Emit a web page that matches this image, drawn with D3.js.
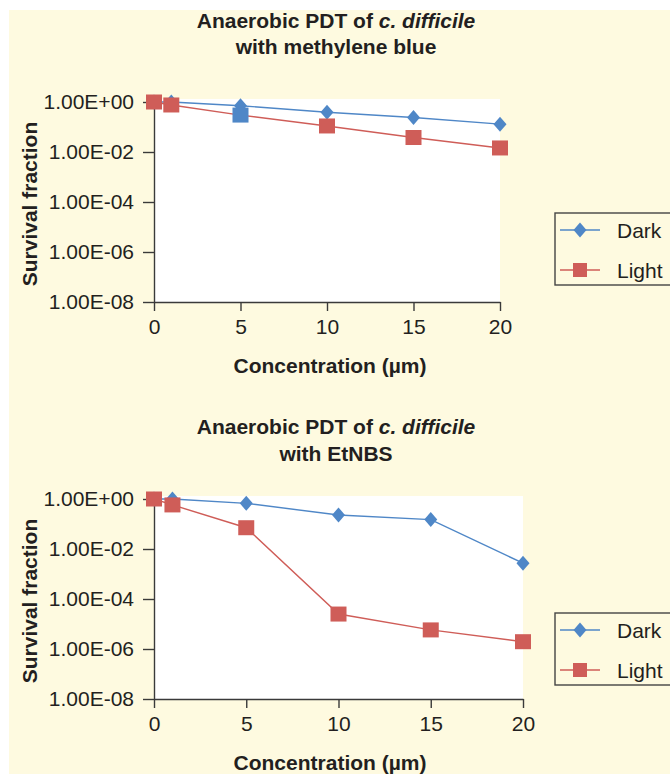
<!DOCTYPE html>
<html>
<head>
<meta charset="utf-8">
<script src="https://cdn.jsdelivr.net/npm/d3@7"></script>
<style>
    body { margin: 0; background: #fff; }
    svg text { font-family: "Liberation Sans", Arial, Helvetica, sans-serif; fill: #231f20; }
</style>
</head>
<body>
<div id="chart"></div>
<script>
// values
const concentrations = [0, 1, 5, 10, 15, 20];
const seriesNames = ["Dark", "Light"];
const mbDark = [1.0, 1.0, 0.71, 0.39, 0.24, 0.13];
const mbLight = [1.0, 0.76, 0.30, 0.11, 0.038, 0.0145];
const etDark = [1.0, 1.0, 0.67, 0.23, 0.15, 0.0027];
const etLight = [1.0, 0.58, 0.071, 2.5e-5, 5.8e-6, 1.96e-6];
const xTickValues = [0, 5, 10, 15, 20];
const yTickValues = [1, 1e-2, 1e-4, 1e-6, 1e-8];

const darkColor = "#4f87c7";
const lightColor = "#cf5d58";
const axisColor = "#3a3a3a";

const width = 670;
const height = 775;

const svg = d3.select("#chart")
    .append("svg")
    .attr("width", width)
    .attr("height", height);

// cream panel behind both charts
svg.append("rect")
    .attr("x", 9)
    .attr("y", 10)
    .attr("width", width - 9)
    .attr("height", 764)
    .attr("fill", "#fefae0");

function sciFormat(v) {
    const e = Math.round(Math.log10(v));
    const sign = e < 0 ? "-" : "+";
    return "1.00E" + sign + String(Math.abs(e)).padStart(2, "0");
}

function drawChart(cfg) {
    const g = svg.append("g");

    const x = d3.scaleLinear().domain([0, 20]).range([cfg.left, cfg.right]);
    const y = d3.scaleLog().domain([1e-8, 1]).range([cfg.bottom, cfg.top]);

    // white plot area
    g.append("rect")
        .attr("x", cfg.left)
        .attr("y", cfg.top - 3)
        .attr("width", cfg.right - cfg.left)
        .attr("height", cfg.bottom - cfg.top + 3)
        .attr("fill", "#ffffff");

    // title
    const title = g.append("text")
        .attr("x", 336)
        .attr("y", cfg.titleY[0])
        .attr("text-anchor", "middle")
        .style("font-size", "21px")
        .style("font-weight", "bold");
    title.append("tspan").text("Anaerobic PDT of ");
    title.append("tspan").style("font-style", "italic").text("c. difficile");
    g.append("text")
        .attr("x", 336)
        .attr("y", cfg.titleY[1])
        .attr("text-anchor", "middle")
        .style("font-size", "21px")
        .style("font-weight", "bold")
        .text(cfg.subtitle);

    // axes
    const xAxis = d3.axisBottom(x)
        .tickValues(xTickValues)
        .tickSize(9)
        .tickPadding(8)
        .tickSizeOuter(0);
    const yAxis = d3.axisLeft(y)
        .tickValues(yTickValues)
        .tickFormat(sciFormat)
        .tickSize(11)
        .tickPadding(9)
        .tickSizeOuter(0);

    const gx = g.append("g")
        .attr("transform", `translate(0, ${cfg.bottom})`)
        .call(xAxis);
    const gy = g.append("g")
        .attr("transform", `translate(${cfg.left}, 0)`)
        .call(yAxis);

    [gx, gy].forEach(ax => {
        ax.attr("font-family", null).attr("font-size", null);
        ax.select(".domain").attr("stroke", axisColor).attr("stroke-width", 1.4);
        ax.selectAll(".tick line").attr("stroke", axisColor).attr("stroke-width", 1.4);
        ax.selectAll(".tick text").style("font-size", "21px").attr("fill", "#231f20");
    });

    // axis labels
    g.append("text")
        .attr("x", 330)
        .attr("y", cfg.bottom + 71)
        .attr("text-anchor", "middle")
        .style("font-size", "21px")
        .style("font-weight", "bold")
        .text("Concentration (\u00b5m)");

    g.append("text")
        .attr("transform", "rotate(-90)")
        .attr("x", -(cfg.top + cfg.bottom) / 2 - 2)
        .attr("y", 37)
        .attr("text-anchor", "middle")
        .style("font-size", "21px")
        .style("font-weight", "bold")
        .text("Survival fraction");

    const line = d3.line()
        .x(d => x(d.c))
        .y(d => y(d.v));

    const darkData = concentrations.map((c, i) => ({ c: c, v: cfg.dark[i] }));
    const lightData = concentrations.map((c, i) => ({ c: c, v: cfg.light[i] }));

    // Dark series
    g.append("path")
        .datum(darkData)
        .attr("d", line)
        .attr("fill", "none")
        .attr("stroke", darkColor)
        .attr("stroke-width", 1.4);
    g.selectAll(".dark-pt")
        .data(darkData)
        .enter()
        .append("path")
        .attr("class", "dark-pt")
        .attr("transform", d => `translate(${x(d.c)}, ${y(d.v)})`)
        .attr("d", "M0,-7.5L6.5,0L0,7.5L-6.5,0Z")
        .attr("fill", darkColor);

    // Light series
    g.append("path")
        .datum(lightData)
        .attr("d", line)
        .attr("fill", "none")
        .attr("stroke", lightColor)
        .attr("stroke-width", 1.4);
    g.selectAll(".light-pt")
        .data(lightData)
        .enter()
        .append("rect")
        .attr("class", "light-pt")
        .attr("x", d => x(d.c) - 8)
        .attr("y", d => y(d.v) - 7.5)
        .attr("width", 16)
        .attr("height", 15)
        // the original shows one Light marker drawn in the Dark colour
        .attr("fill", d => d.c === cfg.recolorAt ? darkColor : lightColor);

    // legend
    const lg = g.append("g").attr("transform", `translate(555, ${cfg.legendTop})`);
    lg.append("rect")
        .attr("x", 0)
        .attr("y", 0)
        .attr("width", 125)
        .attr("height", 72)
        .attr("fill", "none")
        .attr("stroke", "#444")
        .attr("stroke-width", 1.4);

    seriesNames.forEach((name, i) => {
        const cy = 17 + i * 40;
        const col = i === 0 ? darkColor : lightColor;
        lg.append("line")
            .attr("x1", 5).attr("x2", 45)
            .attr("y1", cy).attr("y2", cy)
            .attr("stroke", col)
            .attr("stroke-width", 1.4);
        if (i === 0) {
            lg.append("path")
                .attr("transform", `translate(25, ${cy})`)
                .attr("d", "M0,-7.5L6.5,0L0,7.5L-6.5,0Z")
                .attr("fill", col);
        } else {
            lg.append("rect")
                .attr("x", 18).attr("y", cy - 7)
                .attr("width", 14).attr("height", 14)
                .attr("fill", col);
        }
        lg.append("text")
            .attr("x", 62)
            .attr("y", cy + 8)
            .style("font-size", "21px")
            .text(name);
    });
}

drawChart({
    left: 154, right: 500, top: 102, bottom: 302,
    titleY: [28, 54],
    subtitle: "with methylene blue",
    dark: mbDark,
    light: mbLight,
    recolorAt: 5,
    legendTop: 213
});

drawChart({
    left: 154, right: 523, top: 499, bottom: 699,
    titleY: [434, 461],
    subtitle: "with EtNBS",
    dark: etDark,
    light: etLight,
    recolorAt: null,
    legendTop: 613
});
</script>
</body>
</html>
